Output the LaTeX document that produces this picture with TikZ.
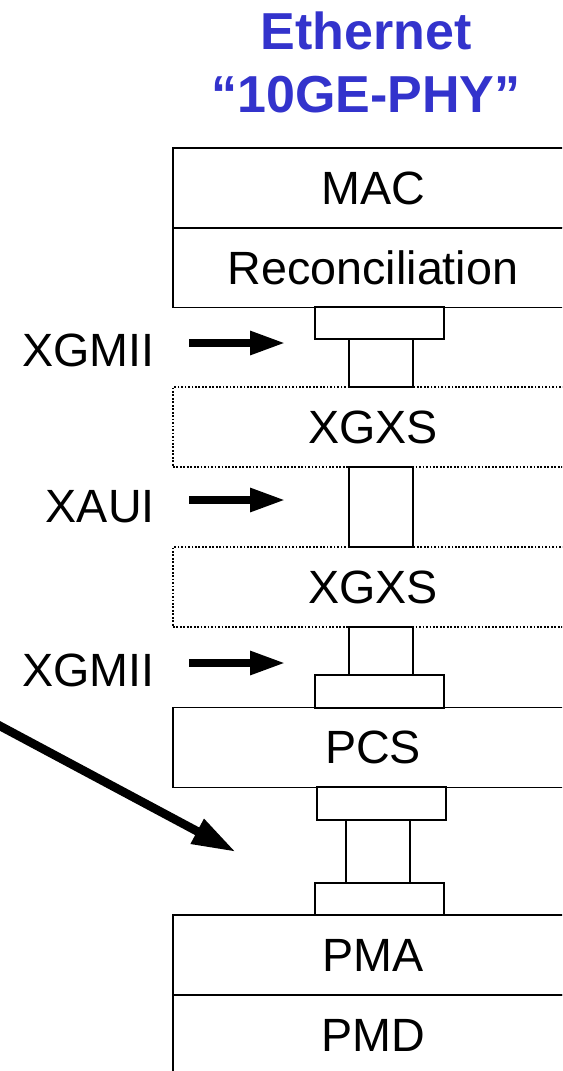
\documentclass[tikz,border=0pt]{standalone}
\usepackage{fontspec}
\setmainfont{Liberation Sans}
\usetikzlibrary{arrows.meta}
\definecolor{titleblue}{RGB}{51,51,204}

\tikzset{
	layer/.style={draw, line width=1.1pt, minimum width=300pt, minimum height=60pt, inner sep=0pt, font=\fontsize{35}{42}\selectfont},
	xgxs/.style={layer, line width=1.3pt, dash pattern=on 1.3pt off 1.3pt},
	widebox/.style={draw, line width=1.1pt, minimum width=96.75pt, minimum height=24pt, inner sep=0pt},
	narrowbox/.style={draw, line width=1.1pt, minimum width=48pt, minimum height=36pt, inner sep=0pt},
	iflabel/.style={anchor=east, inner sep=0pt, font=\fontsize{35}{42}\selectfont},
	fatarrow/.style={line width=6.3pt, -{Triangle[length=27pt, width=16.5pt]}},
	diagarrow/.style={line width=6.5pt, -{Triangle[length=33pt, width=19.5pt]}},
}

\begin{document}
\begin{tikzpicture}[x=0.75pt, y=-0.75pt]
	\useasboundingbox (0,0) rectangle (562,1071);
	\clip (0,0) rectangle (562,1071);

	% title
	\node[font=\fontsize{39}{47.25}\selectfont\bfseries, text=titleblue, align=center, inner sep=0pt] (title) at (366,62.5) {Ethernet\\“10GE-PHY”};

	% layers
	\node[layer] (mac) at (373,188) {MAC};
	\node[layer] (rs) at (373,267.5) {Reconciliation};
	\node[xgxs] (xgxsA) at (373,427) {XGXS};
	\node[xgxs] (xgxsB) at (373,587) {XGXS};
	\node[layer] (pcs) at (373,747.5) {PCS};
	\node[layer] (pma) at (373,955) {PMA};
	\node[layer] (pmd) at (373,1035) {PMD};

	% interface stubs
	\node[widebox] (wideA) at (379.5,323) {};
	\node[narrowbox] (narrowA) at (381,363) {};
	\node[narrowbox, minimum height=60pt] (narrowB) at (381,507) {};
	\node[narrowbox] (narrowC) at (381,651) {};
	\node[widebox, minimum height=24.75pt] (wideB) at (379.5,691.5) {};
	\node[widebox, minimum height=24.75pt] (wideC) at (381.5,803.5) {};
	\node[narrowbox, minimum height=47.25pt] (narrowD) at (378,851.5) {};
	\node[widebox] (wideD) at (379.5,899) {};

	% interface labels and arrows
	\foreach \y/\name/\txt in {350/ifA/XGMII, 507/ifB/XAUI, 670/ifC/XGMII} {
		\node[iflabel] (\name) at (155,\y) {\txt};
		\coordinate (\name from) at (189,\y-7);
		\coordinate (\name to) at (286,\y-7);
		\draw[fatarrow] (\name from) -- (\name to);
	}

	\coordinate (diagfrom) at (-10,720.6);
	\coordinate (diagto) at (236,852);
	\draw[diagarrow] (diagfrom) -- (diagto);
\end{tikzpicture}
\end{document}
